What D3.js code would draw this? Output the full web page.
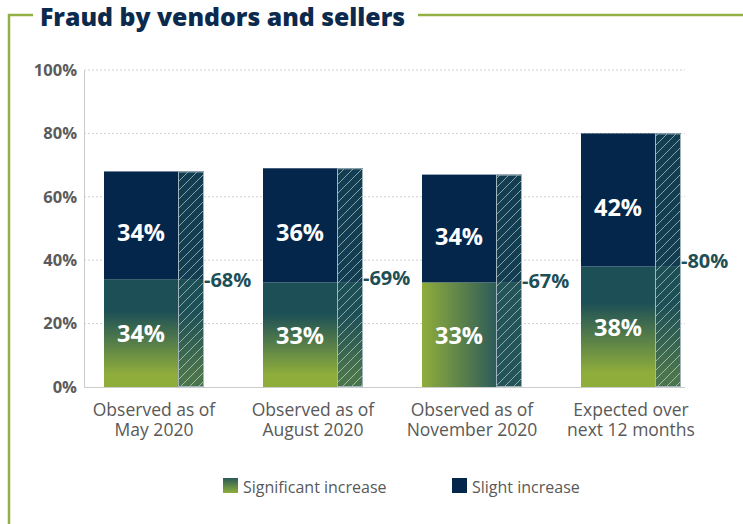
<!DOCTYPE html>
<html>
<head>
<meta charset="utf-8">
<script src="https://cdn.jsdelivr.net/npm/d3@7"></script>
<style>
  html, body { margin: 0; padding: 0; background: #fff; }
  svg { display: block; font-family: "Open Sans", "Lato", sans-serif; }
</style>
</head>
<body>
<svg id="chart" width="743" height="524"></svg>
<script>
// Survey periods along the x axis (two lines each)
const categories = [
  ["Observed as of", "May 2020"],
  ["Observed as of", "August 2020"],
  ["Observed as of", "November 2020"],
  ["Expected over", "next 12 months"]
];
// Share of respondents per series (%)
const significant = [34, 33, 33, 38];
const slight = [34, 36, 34, 42];
// Combined totals shown beside each bar (%)
const totals = [68, 69, 67, 80];
const yTicks = [0, 20, 40, 60, 80, 100];
const seriesNames = ["Significant increase", "Slight increase"];

const NAVY = "#04264b";
const TEAL = "#1d4f57";
const GREEN = "#8fad3b";
const FRAME = "#92b043";

const svg = d3.select("#chart");
const defs = svg.append("defs");

// vertical gradient: teal at the top fading to green at the base
const gv = defs.append("linearGradient").attr("id", "gradV")
  .attr("x1", 0).attr("y1", 0).attr("x2", 0).attr("y2", 1);
gv.append("stop").attr("offset", "0%").attr("stop-color", TEAL);
gv.append("stop").attr("offset", "30%").attr("stop-color", TEAL);
gv.append("stop").attr("offset", "88%").attr("stop-color", GREEN);
gv.append("stop").attr("offset", "100%").attr("stop-color", GREEN);

// horizontal gradient: green at the left to teal at the right
const gh = defs.append("linearGradient").attr("id", "gradH")
  .attr("x1", 0).attr("y1", 0).attr("x2", 1).attr("y2", 0);
gh.append("stop").attr("offset", "0%").attr("stop-color", GREEN);
gh.append("stop").attr("offset", "100%").attr("stop-color", "#2e5c59");

// diagonal hatch for the total column
const pat = defs.append("pattern").attr("id", "hatch")
  .attr("patternUnits", "userSpaceOnUse")
  .attr("width", 9).attr("height", 9);
pat.append("rect").attr("width", 9).attr("height", 9).attr("fill", TEAL).attr("fill-opacity", 0.6);
pat.append("path").attr("d", "M-2,2 L2,-2 M0,9 L9,0 M7,11 L11,7")
  .attr("stroke", "#ffffff").attr("stroke-opacity", 0.5).attr("stroke-width", 1);

const lgLeg = defs.append("linearGradient").attr("id", "gradLeg")
  .attr("x1", 0).attr("y1", 0).attr("x2", 0).attr("y2", 1);
lgLeg.append("stop").attr("offset", "0%").attr("stop-color", "#2a5a58");
lgLeg.append("stop").attr("offset", "100%").attr("stop-color", GREEN);

// frame around the title
svg.append("path")
  .attr("d", "M9,524 V15 H33")
  .attr("fill", "none").attr("stroke", FRAME).attr("stroke-width", 2.5);
svg.append("line")
  .attr("x1", 418).attr("x2", 743).attr("y1", 15).attr("y2", 15)
  .attr("stroke", FRAME).attr("stroke-width", 2.5);
svg.append("text")
  .attr("x", 40).attr("y", 26)
  .attr("font-size", 24.8).attr("font-weight", 800)
  .attr("fill", "#0c2a4d")
  .text("Fraud by vendors and sellers");

// scales
const y = d3.scaleLinear().domain([0, 100]).range([387, 70]);
const xc = d3.scalePoint().domain(d3.range(categories.length))
  .range([74.5, 710.5]).padding(0.5);
const mainW = 74, hatchW = 26, groupW = mainW + hatchW;
const left = i => xc(i) - groupW / 2;

// gridlines
const grid = svg.append("g");
grid.selectAll("line").data(yTicks.filter(d => d > 0)).join("line")
  .attr("x1", 84).attr("x2", 685)
  .attr("y1", d => y(d)).attr("y2", d => y(d))
  .attr("stroke", "#cfcfcf").attr("stroke-dasharray", "2,2");

// y axis
const yAxis = d3.axisLeft(y).tickValues(yTicks).tickSize(0).tickPadding(7)
  .tickFormat(d => d + "%");
const gy = svg.append("g").attr("transform", "translate(84,0)").call(yAxis);
gy.select(".domain").attr("stroke", "#cccccc");
gy.selectAll("text")
  .attr("font-size", 16.5).attr("font-weight", 700)
  .attr("fill", "#5b5b5b").attr("font-family", "Open Sans, sans-serif");

// x axis baseline
svg.append("line").attr("x1", 84).attr("x2", 685)
  .attr("y1", y(0) + 0.5).attr("y2", y(0) + 0.5).attr("stroke", "#cccccc");

const sigFill = i => i === 2 ? "url(#gradH)" : "url(#gradV)";
const sigUnder = i => i === 2 ? "#2e5c59" : "url(#gradV)";

const bars = svg.append("g").selectAll("g").data(categories).join("g");

// significant-increase segment
bars.append("rect")
  .attr("x", (d, i) => left(i)).attr("width", mainW)
  .attr("y", (d, i) => y(significant[i]))
  .attr("height", (d, i) => y(0) - y(significant[i]))
  .attr("fill", (d, i) => sigFill(i));
// slight-increase segment stacked on top
bars.append("rect")
  .attr("x", (d, i) => left(i)).attr("width", mainW)
  .attr("y", (d, i) => y(significant[i] + slight[i]))
  .attr("height", (d, i) => y(significant[i]) - y(significant[i] + slight[i]))
  .attr("fill", NAVY);

// total column: the same stack underneath a hatched overlay
bars.append("rect")
  .attr("x", (d, i) => left(i) + mainW).attr("width", hatchW)
  .attr("y", (d, i) => y(significant[i]))
  .attr("height", (d, i) => y(0) - y(significant[i]))
  .attr("fill", (d, i) => sigUnder(i));
bars.append("rect")
  .attr("x", (d, i) => left(i) + mainW).attr("width", hatchW)
  .attr("y", (d, i) => y(totals[i]))
  .attr("height", (d, i) => y(significant[i]) - y(totals[i]))
  .attr("fill", NAVY);
bars.append("rect")
  .attr("x", (d, i) => left(i) + mainW + 0.5).attr("width", hatchW - 1)
  .attr("y", (d, i) => y(totals[i]) + 0.5)
  .attr("height", (d, i) => y(0) - y(totals[i]) - 1)
  .attr("fill", "url(#hatch)")
  .attr("stroke", "#9fb4bb").attr("stroke-width", 1);

// value labels
const valStyle = s => s.attr("text-anchor", "middle").attr("fill", "#ffffff")
  .attr("font-size", 23.5).attr("font-weight", 700).attr("dominant-baseline", "central");
bars.append("text").call(valStyle)
  .attr("x", (d, i) => left(i) + mainW / 2)
  .attr("y", (d, i) => y(significant[i] / 2))
  .text((d, i) => significant[i] + "%");
bars.append("text").call(valStyle)
  .attr("x", (d, i) => left(i) + mainW / 2)
  .attr("y", (d, i) => y(significant[i] + slight[i] / 2) + 7)
  .text((d, i) => slight[i] + "%");

// total labels
bars.append("text")
  .attr("x", (d, i) => left(i) + groupW)
  .attr("y", (d, i) => y(totals[i] / 2))
  .attr("dominant-baseline", "central")
  .attr("font-size", 20).attr("font-weight", 700).attr("fill", TEAL)
  .text((d, i) => "-" + totals[i] + "%");

// category labels, one text per line
[0, 1].forEach(j => {
  bars.append("text")
    .attr("text-anchor", "middle").attr("font-size", 17.5).attr("fill", "#595959")
    .attr("x", (d, i) => xc(i))
    .attr("y", 416 + j * 19.5)
    .text(d => d[j]);
});

// legend
const legend = svg.append("g");
const legItems = [
  { name: seriesNames[0], fill: "url(#gradLeg)", x: 223 },
  { name: seriesNames[1], fill: NAVY, x: 452 }
];
const li = legend.selectAll("g").data(legItems).join("g")
  .attr("transform", d => `translate(${d.x},478)`);
li.append("rect").attr("width", 15).attr("height", 15).attr("fill", d => d.fill);
li.append("text").attr("x", 20).attr("y", 14.5)
  .attr("font-size", 16).attr("fill", "#595959").text(d => d.name);
</script>
</body>
</html>
